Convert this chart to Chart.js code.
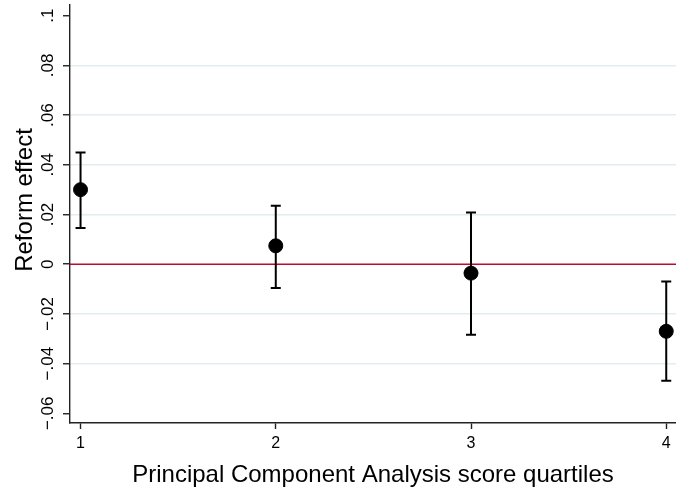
<!DOCTYPE html>
<html>
<head>
<meta charset="utf-8">
<script src="https://cdn.jsdelivr.net/npm/chart.js@4"></script>
<style>
  html, body { margin: 0; padding: 0; background: #fff; }
  #wrap { width: 676px; height: 491px; }
</style>
</head>
<body>
<div id="wrap"><canvas id="grafico"></canvas></div>
<script>
// datos
const cuartiles = [1, 2, 3, 4];
const efecto = [0.030, 0.0074, -0.0036, -0.027];
const ciBajo = [0.0146, -0.0096, -0.0284, -0.0469];
const ciAlto = [0.0449, 0.0235, 0.0208, -0.0070];
const yTicks = [-0.06, -0.04, -0.02, 0, 0.02, 0.04, 0.06, 0.08, 0.1];
const yEtiquetas = ["\u2212.06", "\u2212.04", "\u2212.02", "0", ".02", ".04", ".06", ".08", ".1"];
const xTicks = [1, 2, 3, 4];
const lineaCero = 0;

const fuente = "'Liberation Sans', Arial, sans-serif";

const barrasError = {
    id: "barrasError",
    beforeDatasetsDraw(chart) {
        const { ctx, scales: { x, y }, chartArea } = chart;
        ctx.save();
        // linea roja en cero
        const y0 = y.getPixelForValue(lineaCero);
        ctx.strokeStyle = "#bf0a30";
        ctx.lineWidth = 1.6;
        ctx.beginPath();
        ctx.moveTo(chartArea.left, y0);
        ctx.lineTo(chartArea.right, y0);
        ctx.stroke();
        // barras de error
        ctx.strokeStyle = "#000";
        ctx.lineWidth = 2;
        cuartiles.forEach((q, i) => {
            const px = x.getPixelForValue(q);
            const top = y.getPixelForValue(ciAlto[i]);
            const bot = y.getPixelForValue(ciBajo[i]);
            ctx.beginPath();
            ctx.moveTo(px, top); ctx.lineTo(px, bot);
            ctx.moveTo(px - 5, top); ctx.lineTo(px + 5, top);
            ctx.moveTo(px - 5, bot); ctx.lineTo(px + 5, bot);
            ctx.stroke();
        });
        ctx.restore();
    },
    afterDraw(chart) {
        const { ctx, scales: { y } } = chart;
        ctx.save();
        ctx.fillStyle = "#000";
        ctx.textAlign = "center";
        // etiquetas del eje y giradas
        ctx.font = "17px " + fuente;
        ctx.textBaseline = "middle";
        yTicks.forEach((v, i) => {
            const py = y.getPixelForValue(v);
            ctx.save();
            ctx.translate(48, py);
            ctx.rotate(-Math.PI / 2);
            ctx.fillText(yEtiquetas[i], 0, 0);
            ctx.restore();
        });
        // titulo del eje y
        ctx.font = "24px " + fuente;
        ctx.textBaseline = "alphabetic";
        ctx.translate(32, 200);
        ctx.rotate(-Math.PI / 2);
        ctx.fillText("Reform effect", 0, 0);
        ctx.restore();
    }
};

new Chart(document.getElementById("grafico").getContext("2d"), {
    type: "scatter",
    data: {
        datasets: [{
            data: cuartiles.map((q, i) => ({ x: q, y: efecto[i] })),
            backgroundColor: "#000",
            borderColor: "#000",
            pointRadius: 7,
            pointHoverRadius: 7,
            clip: false
        }]
    },
    options: {
        responsive: true,
        maintainAspectRatio: false,
        animation: false,
        layout: { autoPadding: false, padding: { top: 5, right: 0, left: 0, bottom: 0 } },
        plugins: { legend: { display: false }, tooltip: { enabled: false } },
        scales: {
            x: {
                type: "linear",
                min: 0.946,
                max: 4.05,
                afterBuildTicks: (s) => { s.ticks = xTicks.map(v => ({ value: v })); },
                afterFit: (s) => { s.height = 68; s.paddingLeft = 0; s.paddingRight = 0; },
                border: { color: "#222", width: 1.4 },
                grid: { drawOnChartArea: false, tickLength: 6, tickColor: "#222", tickWidth: 1.4 },
                ticks: { color: "#000", font: { family: fuente, size: 16 }, padding: 5 },
                title: {
                    display: true,
                    text: "Principal Component Analysis score quartiles",
                    color: "#000",
                    font: { family: fuente, size: 24 },
                    padding: { top: 0, bottom: 1 }
                }
            },
            y: {
                min: -0.0639,
                max: 0.1043,
                afterBuildTicks: (s) => { s.ticks = yTicks.map(v => ({ value: v })); },
                afterFit: (s) => { s.width = 70; s.paddingTop = 0; s.paddingBottom = 0; },
                border: { color: "#222", width: 1.4 },
                grid: {
                    color: (c) => {
                        const v = c.tick ? c.tick.value : null;
                        if (v === yTicks[0] || v === yTicks[yTicks.length - 1] || v === lineaCero) return "rgba(0,0,0,0)";
                        return "#e3ecef";
                    },
                    lineWidth: 1.5,
                    tickLength: 7,
                    tickColor: "#222",
                    tickWidth: 1.4
                },
                ticks: { display: false }
            }
        }
    },
    plugins: [barrasError]
});
</script>
</body>
</html>
